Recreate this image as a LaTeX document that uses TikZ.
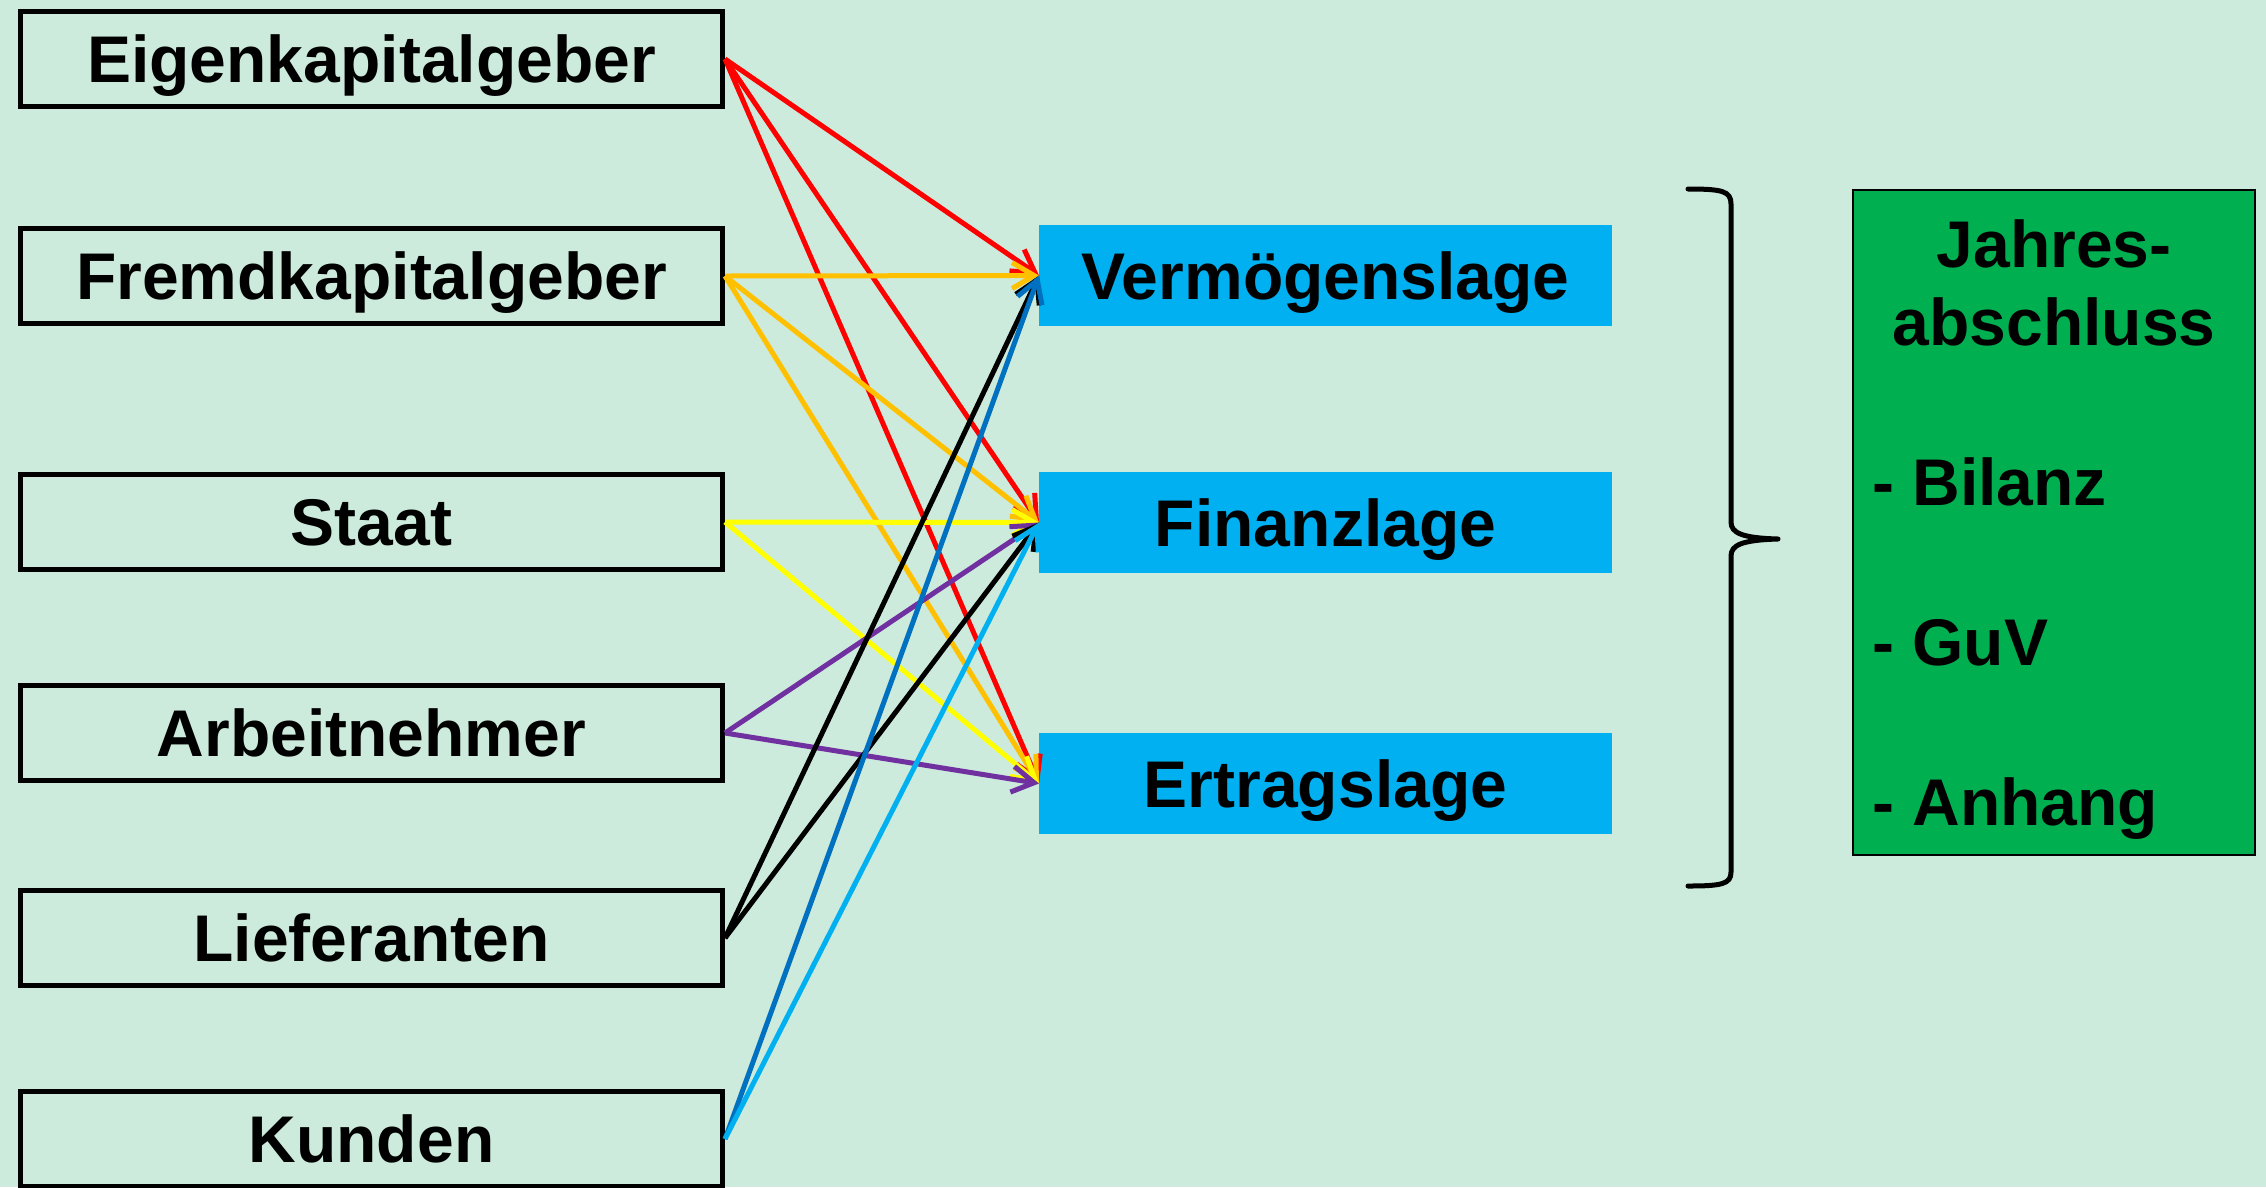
\documentclass[tikz,border=0pt]{standalone}
\usepackage{fontspec}
\setmainfont{Liberation Sans}
\usetikzlibrary{arrows.meta}

\definecolor{bgmint}{HTML}{CCEBDC}
\definecolor{lageblue}{HTML}{00B0F0}
\definecolor{jagreen}{HTML}{00B050}
\definecolor{cred}{HTML}{FF0000}
\definecolor{corange}{HTML}{FFC000}
\definecolor{cyellow}{HTML}{FFFF00}
\definecolor{cpurple}{HTML}{7030A0}
\definecolor{cdarkblue}{HTML}{0070C0}
\definecolor{clightblue}{HTML}{00B0F0}

\begin{document}
\begin{tikzpicture}[x=1pt, y=-1pt,
  bigfont/.style={font=\fontsize{66}{79}\selectfont\bfseries},
  stakeholder/.style={bigfont, draw=black, line width=5pt, minimum width=702pt,
    minimum height=95pt, inner sep=0pt, text height=47pt, text depth=0pt},
  lage/.style={bigfont, fill=lageblue, minimum width=573pt, minimum height=101pt,
    inner sep=0pt, outer sep=0pt, text height=47pt, text depth=0pt},
  listline/.style={bigfont, inner sep=0pt, anchor=base west},
  headline/.style={bigfont, inner sep=0pt, anchor=base},
  link/.style={line width=5pt, -{Straight Barb[length=22pt,width=26pt]}},
]
% canvas
\fill[bgmint] (0,0) rectangle (2266,1187);
\useasboundingbox (0,0) rectangle (2266,1187);

% stakeholders
\node[stakeholder] (ek)   at (371.5,59)   {Eigenkapitalgeber};
\node[stakeholder] (fk)   at (371.5,276)  {Fremdkapitalgeber};
\node[stakeholder] (st)   at (371.5,522)  {Staat};
\node[stakeholder] (an)   at (371.5,733)  {Arbeitnehmer};
\node[stakeholder] (lf)   at (371.5,938)  {Lieferanten};
\node[stakeholder] (kd)   at (371.5,1139) {Kunden};

% the three "Lagen"
\node[lage] (vl) at (1325.5,275.5) {Vermögenslage};
\node[lage] (fl) at (1325.5,522.5) {Finanzlage};
\node[lage] (el) at (1325.5,783.5) {Ertragslage};

% connections
\draw[link, cred] (ek.east) -- (vl.west);
\draw[link, cred] (ek.east) -- (fl.west);
\draw[link, cred] (ek.east) -- (el.west);
\draw[link, corange] (fk.east) -- (vl.west);
\draw[link, corange] (fk.east) -- (fl.west);
\draw[link, corange] (fk.east) -- (el.west);
\draw[link, cyellow] (st.east) -- (fl.west);
\draw[link, cyellow] (st.east) -- (el.west);
\draw[link, cpurple] (an.east) -- (fl.west);
\draw[link, cpurple] (an.east) -- (el.west);
\draw[link, black] (lf.east) -- (vl.west);
\draw[link, black] (lf.east) -- (fl.west);
\draw[link, cdarkblue] (kd.east) -- (vl.west);
\draw[link, clightblue] (kd.east) -- (fl.west);

% curly brace
\draw[line width=5pt, line cap=round, line join=round]
  (1688,189) .. controls (1722,189) and (1731,191) .. (1731,204)
  -- (1731,522) .. controls (1731,533) and (1742,538) .. (1778,539)
  .. controls (1742,540) and (1731,545) .. (1731,556)
  -- (1731,872) .. controls (1731,884) and (1722,886) .. (1688,886);

% annual financial statements
\node[draw=black, line width=1.5pt, fill=jagreen, minimum width=402pt,
  minimum height=665pt, inner sep=0pt] (ja) at (2054,522.5) {};
\node[headline] (ja1) at (2054,267) {Jahres-};
\node[headline] (ja2) at (2054,345) {abschluss};
\node[listline] (ja3) at (1872,505) {- Bilanz};
\node[listline] (ja4) at (1872,665) {- GuV};
\node[listline] (ja5) at (1872,825) {- Anhang};
\end{tikzpicture}
\end{document}
